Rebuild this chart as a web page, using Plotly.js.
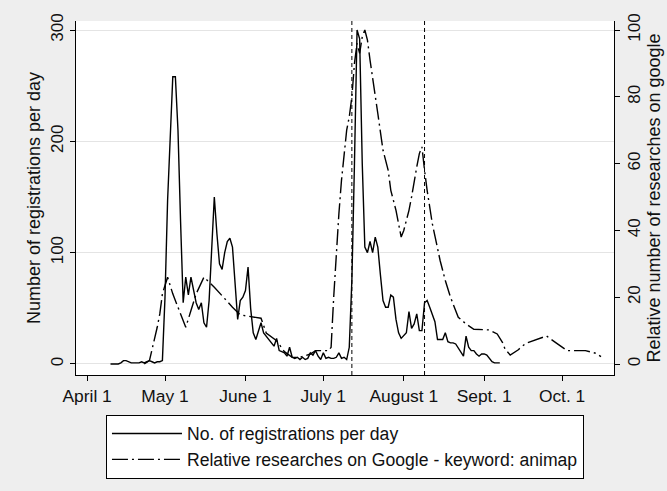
<!DOCTYPE html>
<html><head><meta charset="utf-8">
<script src="https://cdn.plot.ly/plotly-3.0.1.min.js"></script>
<style>html,body{margin:0;padding:0;background:#EEEEEE}</style>
</head><body><div id="chart" style="width:667px;height:491px"></div>
<script>
// Registrations per day, consecutive days starting at regStart
const regStart = '2013-04-10';
const registrations = [
  0,0,0,0,
  1,3,3,2,1,1,1,1,
  2,1,2,3,2,1,2,2,3,
  60,147,204,258,258,210,128,55,78,62,
  78,66,55,49,55,37,33,57,111,150,
  117,90,85,100,110,113,105,73,40,57,
  60,66,87,50,28,22,30,37,28,25,
  22,18,16,23,12,11,10,7,15,6,
  5,6,4,6,4,5,10,8,12,7,
  4,10,5,6,5,5,6,10,5,6,
  4,15,75,180,300,292,180,105,100,110,
  100,114,105,80,57,51,51,62,60,40,
  28,23,26,28,47,32,36,45,30,30,
  55,57,51,45,38,22,22,22,28,20,
  19,19,18,14,10,7,25,15,12,12,
  9,7,9,9,8,5,2,1,1,1
];

// Relative Google searches (right axis)
const googleDates = [
  '2013-04-23','2013-04-25','2013-04-28','2013-04-29','2013-04-30','2013-05-02','2013-05-04',
  '2013-05-09','2013-05-11','2013-05-13','2013-05-16','2013-05-20','2013-05-27','2013-05-30',
  '2013-06-07','2013-06-09','2013-06-13','2013-06-16','2013-06-19','2013-06-22','2013-06-26',
  '2013-06-28','2013-07-03','2013-07-04','2013-07-05','2013-07-06','2013-07-07','2013-07-08',
  '2013-07-09','2013-07-10','2013-07-11','2013-07-12','2013-07-13','2013-07-14','2013-07-15',
  '2013-07-16','2013-07-17','2013-07-18','2013-07-19','2013-07-20','2013-07-21','2013-07-22',
  '2013-07-24','2013-07-26','2013-07-27','2013-07-29','2013-07-30','2013-07-31','2013-08-01',
  '2013-08-03','2013-08-04','2013-08-05','2013-08-06','2013-08-07','2013-08-08','2013-08-09',
  '2013-08-10','2013-08-12','2013-08-13','2013-08-15','2013-08-16','2013-08-17','2013-08-19',
  '2013-08-21','2013-08-22','2013-08-25','2013-08-28','2013-09-03','2013-09-06','2013-09-08',
  '2013-09-09','2013-09-11','2013-09-14','2013-09-17','2013-09-21','2013-09-25','2013-09-28',
  '2013-10-01','2013-10-03','2013-10-10','2013-10-14','2013-10-16'
];
const googleValues = [
  0,1,11,15,21,26,21,
  11,16,21,26,23,17,14.7,
  13.7,9.3,7,3.7,2,2,3,
  4,4,5,20,33,45,55,
  63,70,74,80,90,96,93,
  98,100,97,91,86,80,75,
  64,58,52,46,42,38,40,
  46,50,55,59,63,65,58,
  52,42,38,31,28,25,20,
  16,14,12,10.4,10.2,9,6.5,
  4.5,2.7,4.2,6.2,7.2,8.4,6.7,
  5,4,4,3.2,2.2
];

const eventDates = ['2013-07-12','2013-08-09'];
const tickDates = ['2013-04-01','2013-05-01','2013-06-01','2013-07-01','2013-08-01','2013-09-01','2013-10-01'];
const tickLabels = ['April 1','May 1','June 1','July 1','August 1','Sept. 1','Oct. 1'];
const leftTicks = [0,100,200,300];
const rightTicks = [0,20,40,60,80,100];

function addDays(iso, n){ const d = new Date(iso+'T00:00:00Z'); d.setUTCDate(d.getUTCDate()+n); return d.toISOString().slice(0,10); }
const regDates = registrations.map((_,i)=>addDays(regStart,i));

const traces = [
  {x: regDates, y: registrations, type:'scatter', mode:'lines', name:'No. of registrations per day',
   line:{color:'#000', width:1.4}, yaxis:'y'},
  {x: googleDates, y: googleValues, type:'scatter', mode:'lines', name:'Relative researches on Google - keyword: animap',
   line:{color:'#000', width:1.4, dash:'16px,4px,2px,4px'}, yaxis:'y2'}
];

const layout = {
  width:667, height:491,
  margin:{l:76, r:53, t:21, b:116},
  paper_bgcolor:'#EEEEEE', plot_bgcolor:'#FFFFFF',
  font:{family:'"Liberation Sans", Arial, sans-serif', size:17, color:'#111'},
  showlegend:true,
  legend:{xref:'paper', yref:'container', x:0.0557, y:0.1556, xanchor:'left', yanchor:'top',
    bgcolor:'#FFFFFF', bordercolor:'#000', borderwidth:1, itemwidth:70, font:{size:17.6}},
  xaxis:{type:'date', range:['2013-03-27 17:00','2013-10-21'], tickmode:'array', tickvals:tickDates, ticktext:tickLabels,
    ticks:'outside', ticklen:5, tickcolor:'#000', showline:true, linecolor:'#000', linewidth:1,
    showgrid:false, zeroline:false, tickfont:{size:17.4}, tickangle:0, automargin:false},
  yaxis:{range:[-9.9,308.1], tickmode:'array', tickvals:leftTicks, tickangle:-90, ticks:'outside', ticklen:5, tickcolor:'#000',
    showline:true, linecolor:'#000', linewidth:1, showgrid:true, gridcolor:'#E4E4E4', zeroline:false, tickfont:{size:17},
    automargin:false, title:{text:'Number of registrations per day', font:{size:18}, standoff:2}},
  yaxis2:{overlaying:'y', side:'right', range:[-3.29,102.7], tickmode:'array', tickvals:rightTicks, tickangle:-90,
    ticks:'outside', ticklen:5, tickcolor:'#000', showline:true, linecolor:'#000', linewidth:1,
    showgrid:false, zeroline:false, tickfont:{size:17}, automargin:false,
    title:{text:'Relative number of researches on google', font:{size:18}, standoff:2}},
  shapes: eventDates.map(d=>({type:'line', xref:'x', yref:'paper', x0:d, x1:d, y0:0, y1:1,
    line:{color:'#000', width:1, dash:'4px,3px'}}))
};

Plotly.newPlot('chart', traces, layout, {displayModeBar:false, staticPlot:true});
</script>
</body></html>
